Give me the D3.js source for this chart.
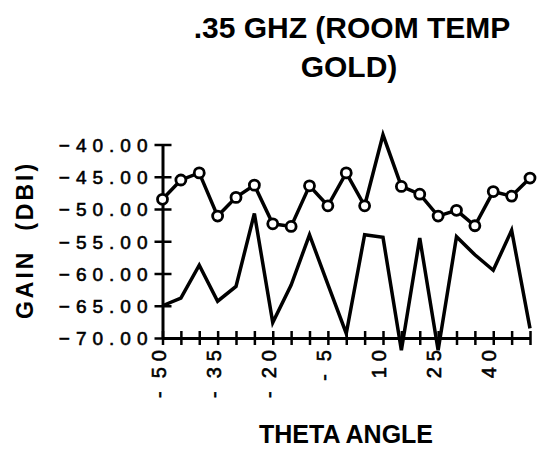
<!DOCTYPE html>
<html lang="en">
    <head>
        <meta charset="utf-8">
        <title>D3</title>
        <script type="text/javascript" src="https://cdnjs.cloudflare.com/ajax/libs/d3/7.8.5/d3.min.js"></script>
        <style type="text/css">
            body { margin: 0; background: #fff; }
            text { font-family: "Liberation Sans", Arial, Helvetica, sans-serif; fill: #000; }
        </style>
    </head>
    <body>
        <script type="text/javascript">
            var w = 540;
            var h = 451;

            // theta angle (deg)
            var theta = [-50, -45, -40, -35, -30, -25, -20, -15, -10, -5, 0,
                         5, 10, 15, 20, 25, 30, 35, 40, 45, 50];
            // gain with circles (dBi)
            var gainUpper = [-48.5, -45.5, -44.4, -51.1, -48.2, -46.3, -52.3, -52.7, -46.4, -49.5, -44.4,
                             -49.5, -38.5, -46.5, -47.7, -51.1, -50.2, -52.6, -47.3, -48.0, -45.2];
            // plain line gain (dBi)
            var gainLower = [-65.0, -63.8, -58.7, -64.3, -62.0, -50.7, -67.6, -61.8, -54.0, -61.7, -69.3,
                             -54.0, -54.4, -71.9, -54.5, -71.9, -54.3, -57.1, -59.5, -53.3, -68.5];

            var xTicks = [-50, -45, -40, -35, -30, -25, -20, -15, -10, -5, 0, 5, 10, 15, 20, 25, 30, 35, 40, 45, 50];
            var xLabels = [-50, -35, -20, -5, 10, 25, 40];
            var yTicks = [-70, -65, -60, -55, -50, -45, -40];

            var svg = d3.select("body")
                        .append("svg")
                        .attr("width", w)
                        .attr("height", h);

            var x = d3.scaleLinear().domain([-50, 50]).range([162.5, 530]);
            var y = d3.scaleLinear().domain([-70, -40]).range([338, 144.5]);

            // title
            svg.append("text")
               .attr("x", 352).attr("y", 38)
               .attr("text-anchor", "middle")
               .style("font-size", "30px").style("font-weight", "bold")
               .text(".35 GHZ (ROOM TEMP");
            svg.append("text")
               .attr("x", 349).attr("y", 77)
               .attr("text-anchor", "middle")
               .style("font-size", "30px").style("font-weight", "bold")
               .text("GOLD)");

            // y axis
            var yAxis = svg.append("g")
                .attr("transform", "translate(" + x(-50) + ",0)")
                .call(d3.axisLeft(y).tickValues(yTicks).tickSizeOuter(0).tickFormat(d3.format(".2f")));
            yAxis.select(".domain").attr("stroke", "#000").attr("stroke-width", 3);
            yAxis.selectAll(".tick line").attr("x1", -8).attr("x2", 9)
                 .attr("stroke", "#000").attr("stroke-width", 2.5);
            yAxis.selectAll(".tick text")
                 .attr("x", -9)
                 .attr("dy", "0.36em")
                 .attr("stroke", "#000")
                 .attr("stroke-width", 0.6)
                 .style("font-size", "19px")
                 .style("letter-spacing", "6px");

            // x axis
            var xAxis = svg.append("g")
                .attr("transform", "translate(0," + y(-70) + ")")
                .call(d3.axisBottom(x).tickValues(xTicks).tickSizeOuter(0).tickFormat(""));
            xAxis.select(".domain").attr("stroke", "#000").attr("stroke-width", 3);
            xAxis.selectAll(".tick line").attr("y1", -7).attr("y2", 7)
                 .attr("stroke", "#000").attr("stroke-width", 2.5);

            // rotated x tick labels
            var xl = svg.append("g").selectAll("text")
                .data(xLabels)
                .enter()
                .append("text")
                .attr("transform", function (d) {
                    return "translate(" + (x(d) + 3) + "," + (y(-70) + 6) + ") rotate(-90)";
                })
                .attr("text-anchor", "end")
                .attr("stroke", "#000")
                .attr("stroke-width", 0.6)
                .style("font-size", "20px")
                .style("letter-spacing", "6px");
            xl.each(function (d) {
                var t = d3.select(this);
                if (d < 0) {
                    t.append("tspan").style("letter-spacing", "13px").text("-");
                }
                t.append("tspan").text(String(Math.abs(d)));
            });

            // axis titles
            svg.append("text")
               .attr("transform", "translate(33,240) rotate(-90)")
               .attr("text-anchor", "middle")
               .style("font-size", "23px").style("font-weight", "bold")
               .style("letter-spacing", "3px")
               .style("white-space", "pre")
               .text("GAIN  (DBI)");
            svg.append("text")
               .attr("x", 346).attr("y", 443)
               .attr("text-anchor", "middle")
               .style("font-size", "25px").style("font-weight", "bold")
               .text("THETA ANGLE");

            // lines
            var line = d3.line()
                .x(function (d) { return x(d[0]); })
                .y(function (d) { return y(d[1]); });

            var upper = theta.map(function (t, i) { return [t, gainUpper[i]]; });
            var lower = theta.map(function (t, i) { return [t, gainLower[i]]; });

            svg.append("path")
               .datum(lower)
               .attr("d", line)
               .attr("fill", "none")
               .attr("stroke", "#000")
               .attr("stroke-width", 3.5)
               .attr("stroke-linejoin", "miter");

            svg.append("path")
               .datum(upper)
               .attr("d", line)
               .attr("fill", "none")
               .attr("stroke", "#000")
               .attr("stroke-width", 3.5)
               .attr("stroke-linejoin", "miter");

            svg.selectAll("circle")
               .data(upper.filter(function (d) { return d[1] <= -40; }))
               .enter()
               .append("circle")
               .attr("cx", function (d) { return x(d[0]); })
               .attr("cy", function (d) { return y(d[1]); })
               .attr("r", 5)
               .attr("fill", "white")
               .attr("stroke", "#000")
               .attr("stroke-width", 2.8);
        </script>
    </body>
</html>
